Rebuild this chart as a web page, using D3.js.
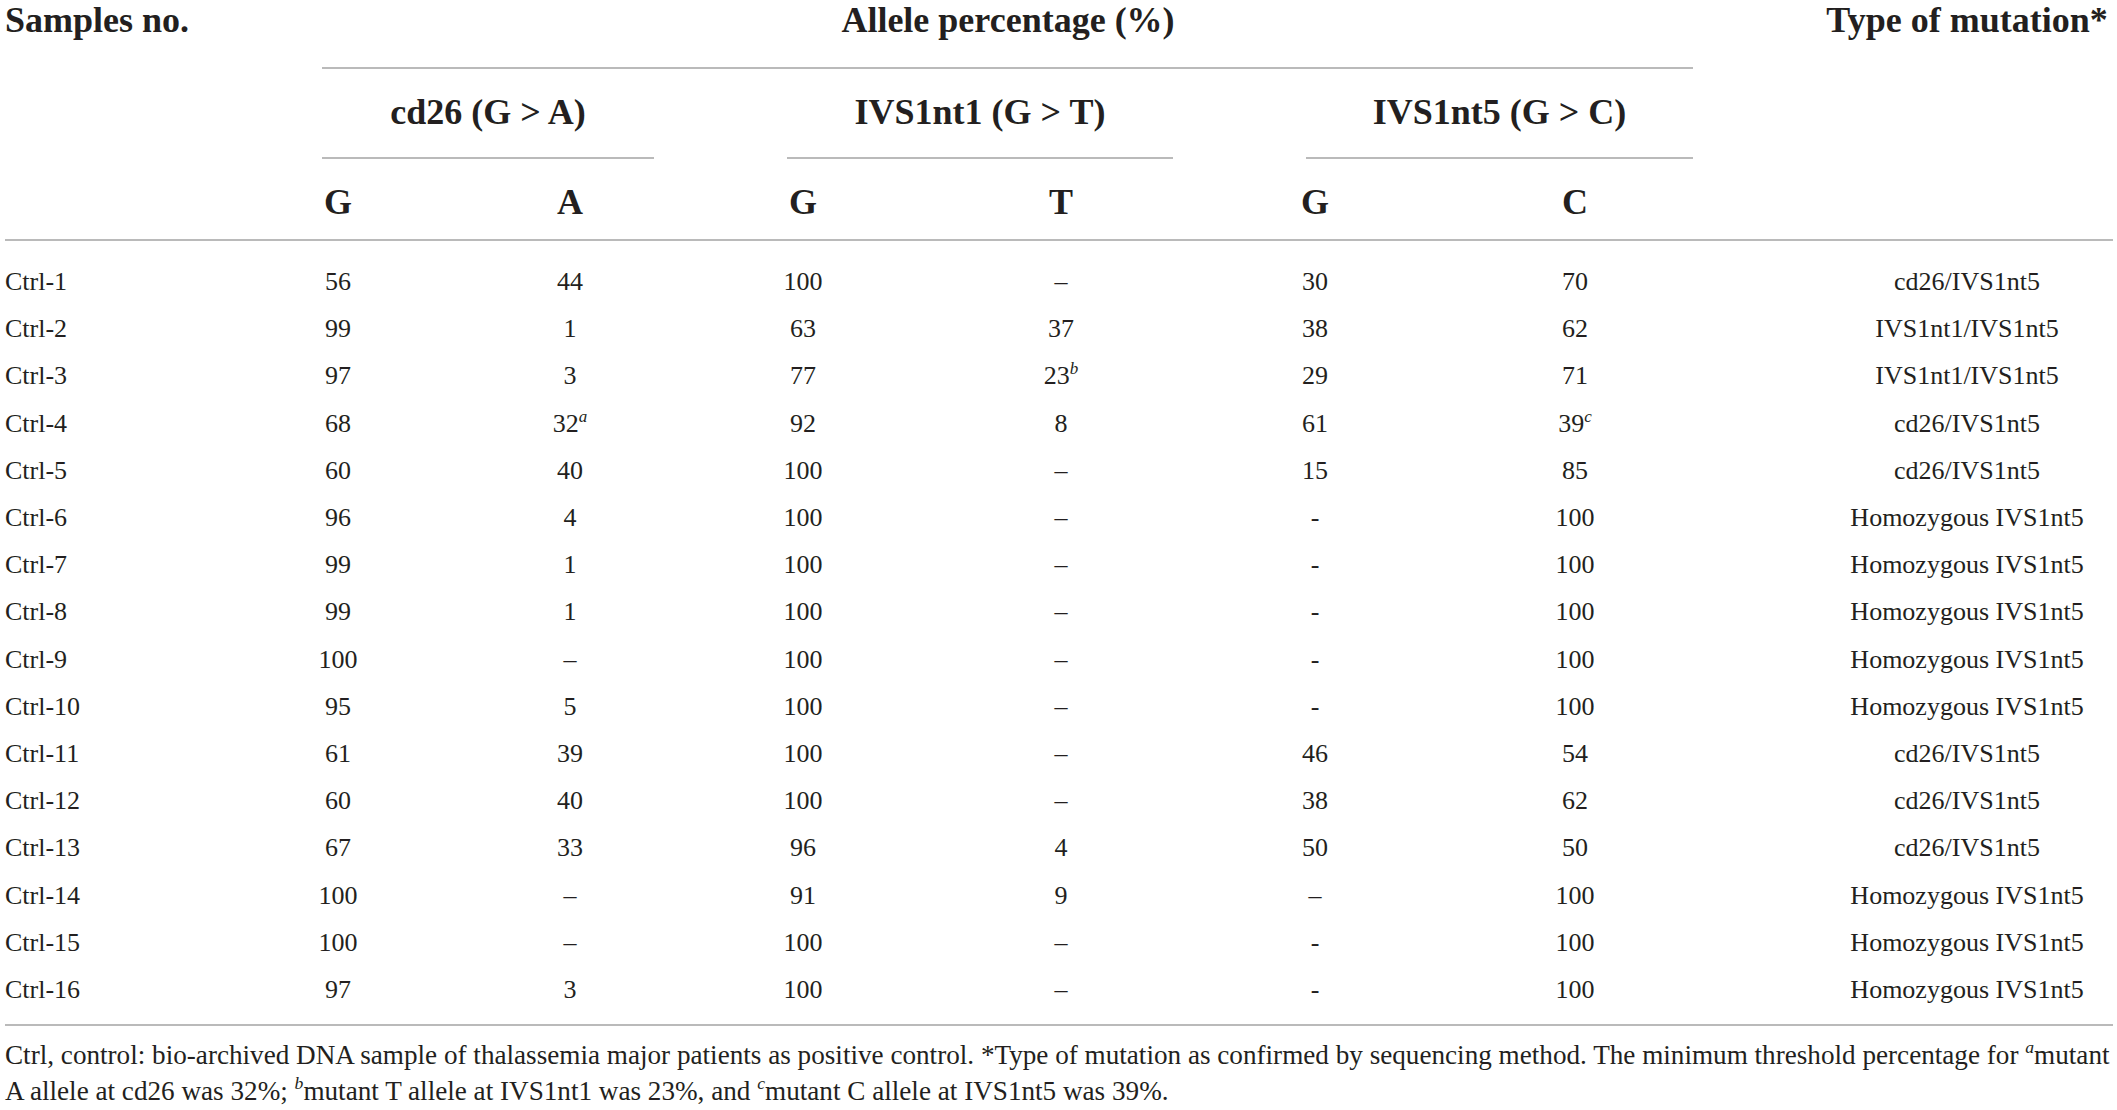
<!DOCTYPE html>
<html>
<head>
<meta charset="utf-8">
<script src="https://cdn.jsdelivr.net/npm/d3@7/dist/d3.min.js"></script>
<style>
  html, body { margin: 0; padding: 0; background: #ffffff; }
  svg { display: block; }
</style>
</head>
<body>
<script>
// ---------- DATA ----------
const samples = ["Ctrl-1","Ctrl-2","Ctrl-3","Ctrl-4","Ctrl-5","Ctrl-6","Ctrl-7","Ctrl-8",
  "Ctrl-9","Ctrl-10","Ctrl-11","Ctrl-12","Ctrl-13","Ctrl-14","Ctrl-15","Ctrl-16"];
const cd26G   = ["56","99","97","68","60","96","99","99","100","95","61","60","67","100","100","97"];
const cd26A   = ["44","1","3","32","40","4","1","1","–","5","39","40","33","–","–","3"];
const ivs1G   = ["100","63","77","92","100","100","100","100","100","100","100","100","96","91","100","100"];
const ivs1T   = ["–","37","23","8","–","–","–","–","–","–","–","–","4","9","–","–"];
const ivs5G   = ["30","38","29","61","15","-","-","-","-","-","46","38","50","–","-","-"];
const ivs5C   = ["70","62","71","39","85","100","100","100","100","100","54","62","50","100","100","100"];
const mutationType = ["cd26/IVS1nt5","IVS1nt1/IVS1nt5","IVS1nt1/IVS1nt5","cd26/IVS1nt5","cd26/IVS1nt5",
  "Homozygous IVS1nt5","Homozygous IVS1nt5","Homozygous IVS1nt5","Homozygous IVS1nt5","Homozygous IVS1nt5",
  "cd26/IVS1nt5","cd26/IVS1nt5","cd26/IVS1nt5","Homozygous IVS1nt5","Homozygous IVS1nt5","Homozygous IVS1nt5"];
// superscript notes: [column key, row index, letter]
const notes = [["cd26A",3,"a"],["ivs1T",2,"b"],["ivs5C",3,"c"]];

const titleHeaders = ["Samples no.","Allele percentage (%)","Type of mutation*"];
const groupHeaders = ["cd26 (G > A)","IVS1nt1 (G > T)","IVS1nt5 (G > C)"];
const alleleHeaders = ["G","A","G","T","G","C"];
const columnKeys = ["cd26G","cd26A","ivs1G","ivs1T","ivs5G","ivs5C"];
const columnData = {cd26G, cd26A, ivs1G, ivs1T, ivs5G, ivs5C};

const footLine1 = [["Ctrl, control: bio-archived DNA sample of thalassemia major patients as positive control. *Type of mutation as confirmed by sequencing method. The minimum threshold percentage for ", false],["a", true],["mutant", false]];
const footLine2 = [["A allele at cd26 was 32%; ", false],["b", true],["mutant T allele at IVS1nt1 was 23%, and ", false],["c", true],["mutant C allele at IVS1nt5 was 39%.", false]];

// ---------- LAYOUT ----------
const W = 2117, H = 1110;
const textColor = "#231f20";
const ruleColor = "#a3a3a3";
const serif = "'Liberation Serif', 'Times New Roman', serif";

const svg = d3.select("body").append("svg").attr("width", W).attr("height", H);

const colX = d3.scaleOrdinal().domain(columnKeys).range([338, 570, 803, 1061, 1315, 1575]);
const typeX = 1967;
const rowY = d3.scalePoint().domain(samples).range([290, 998]);

// Title row
const hdrSize = 36;
svg.append("text").attr("x", 5).attr("y", 32)
  .attr("font-family", serif).attr("font-weight", "bold").attr("font-size", hdrSize)
  .attr("fill", textColor).text(titleHeaders[0]);
svg.append("text").attr("x", 1008).attr("y", 32).attr("text-anchor", "middle")
  .attr("font-family", serif).attr("font-weight", "bold").attr("font-size", hdrSize)
  .attr("fill", textColor).text(titleHeaders[1]);
svg.append("text").attr("x", typeX).attr("y", 32).attr("text-anchor", "middle")
  .attr("font-family", serif).attr("font-weight", "bold").attr("font-size", hdrSize)
  .attr("fill", textColor).text(titleHeaders[2]);

// Rules
const rules = [
  [322, 1693, 68],
  [322, 654, 158], [787, 1173, 158], [1306, 1693, 158],
  [5, 2113, 240],
  [5, 2113, 1025]
];
svg.selectAll("line.rule").data(rules).join("line").attr("class", "rule")
  .attr("x1", d => d[0]).attr("x2", d => d[1])
  .attr("y1", d => d[2]).attr("y2", d => d[2])
  .attr("stroke", ruleColor).attr("stroke-width", 1.6);

// Group headers centered on their pair of columns
const groupCenters = [488, 980, 1499.5];
svg.selectAll("text.group").data(groupHeaders).join("text").attr("class", "group")
  .attr("x", (d, i) => groupCenters[i]).attr("y", 124).attr("text-anchor", "middle")
  .attr("font-family", serif).attr("font-weight", "bold").attr("font-size", hdrSize)
  .attr("fill", textColor).text(d => d);

// Allele headers
svg.selectAll("text.allele").data(alleleHeaders).join("text").attr("class", "allele")
  .attr("x", (d, i) => colX(columnKeys[i])).attr("y", 214).attr("text-anchor", "middle")
  .attr("font-family", serif).attr("font-weight", "bold").attr("font-size", hdrSize)
  .attr("fill", textColor).text(d => d);

// Body
const bodySize = 26;
svg.selectAll("text.sample").data(samples).join("text").attr("class", "sample")
  .attr("x", 5).attr("y", d => rowY(d))
  .attr("font-family", serif).attr("font-size", bodySize).attr("fill", textColor).text(d => d);

columnKeys.forEach(key => {
  const vals = columnData[key];
  const g = svg.append("g");
  vals.forEach((v, i) => {
    const t = g.append("text").attr("x", colX(key)).attr("y", rowY(samples[i]))
      .attr("text-anchor", "middle").attr("font-family", serif)
      .attr("font-size", bodySize).attr("fill", textColor);
    t.append("tspan").text(v);
    const note = notes.find(n => n[0] === key && n[1] === i);
    if (note) {
      t.append("tspan").attr("dy", -10).attr("font-size", 17).attr("font-style", "italic").text(note[2]);
    }
  });
});

svg.selectAll("text.type").data(mutationType).join("text").attr("class", "type")
  .attr("x", typeX).attr("y", (d, i) => rowY(samples[i])).attr("text-anchor", "middle")
  .attr("font-family", serif).attr("font-size", bodySize).attr("fill", textColor).text(d => d);

// Footnote
function footText(parts, y, size) {
  const t = svg.append("text").attr("x", 5).attr("y", y)
    .attr("font-family", serif).attr("font-size", size).attr("fill", textColor);
  let raised = false;
  parts.forEach(p => {
    const s = t.append("tspan").text(p[0]);
    if (p[1]) { s.attr("dy", -0.42 * size).attr("font-size", size * 0.65).attr("font-style", "italic"); raised = true; }
    else if (raised) { s.attr("dy", 0.42 * size); raised = false; }
  });
  return t;
}
let fs = 26;
const probe = footText(footLine1, 1064, fs);
const w = probe.node().getComputedTextLength();
probe.remove();
fs = fs * 2105 / w;
footText(footLine1, 1064, fs);
footText(footLine2, 1100, fs);
</script>
</body>
</html>
